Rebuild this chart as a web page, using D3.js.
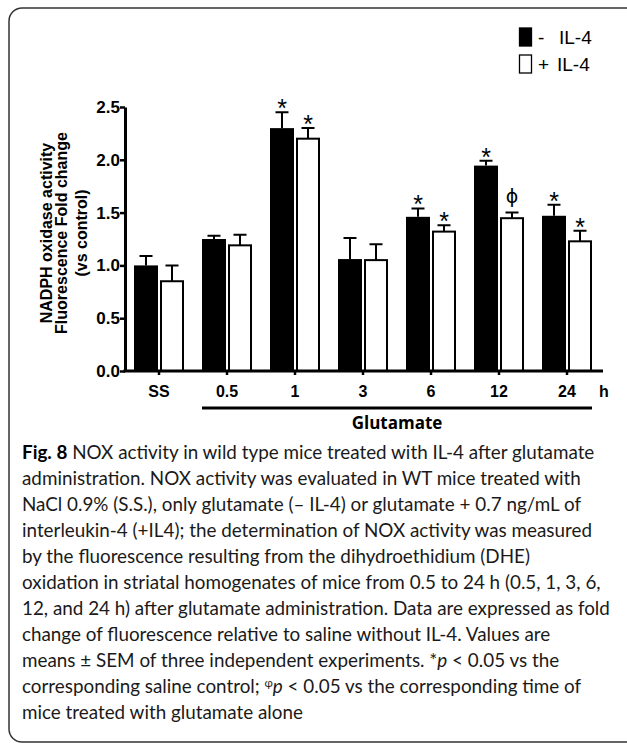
<!DOCTYPE html>
<html>
<head>
<meta charset="utf-8">
<script src="https://cdn.jsdelivr.net/npm/d3@7"></script>
<style>
  body { margin: 0; background: #fff; }
  svg { display: block; }
</style>
</head>
<body>
<svg id="chart" width="627" height="743"></svg>
<script>
// time points after glutamate (SS = saline)
const groups = ["SS", "0.5", "1", "3", "6", "12", "24"];
const series = ["- IL-4", "+ IL-4"];

// fold change
const minusIL4 = [1.00, 1.25, 2.30, 1.06, 1.46, 1.945, 1.47];
const plusIL4  = [0.85, 1.19, 2.20, 1.05, 1.32, 1.447, 1.228];
// SEM (upper whisker only)
const minusErr = [0.09, 0.03, 0.15, 0.20, 0.08, 0.045, 0.105];
const plusErr  = [0.15, 0.10, 0.10, 0.15, 0.06, 0.053, 0.10];
// significance marks
const minusMark = ["", "", "*", "", "*", "*", "*"];
const plusMark  = ["", "", "*", "", "*", "\u03D5", "*"];

const yTicks = [0, 0.5, 1.0, 1.5, 2.0, 2.5];

const caption = [
  [["Fig. 8", "b"], [" NOX activity in wild type mice treated with IL-4 after glutamate", ""]],
  [["administration. NOX activity was evaluated in WT mice treated with", ""]],
  [["NaCl 0.9% (S.S.), only glutamate (\u2013 IL-4) or glutamate + 0.7 ng/mL of", ""]],
  [["interleukin-4 (+IL4); the determination of NOX activity was measured", ""]],
  [["by the fluorescence resulting from the dihydroethidium (DHE)", ""]],
  [["oxidation in striatal homogenates of mice from 0.5 to 24 h (0.5, 1, 3, 6,", ""]],
  [["12, and 24 h) after glutamate administration. Data are expressed as fold", ""]],
  [["change of fluorescence relative to saline without IL-4. Values are", ""]],
  [["means \u00B1 SEM of three independent experiments. *", ""], ["p", "i"], [" < 0.05 vs the", ""]],
  [["corresponding saline control; ", ""], ["\u03C6", "s"], ["p", "i"], [" < 0.05 vs the corresponding time of", ""]],
  [["mice treated with glutamate alone", ""]]
];

const rows = groups.map((g, i) => ({
  group: g,
  bars: [
    { key: series[0], value: minusIL4[i], err: minusErr[i], mark: minusMark[i] },
    { key: series[1], value: plusIL4[i], err: plusErr[i], mark: plusMark[i] }
  ]
}));

const svg = d3.select("#chart");
const axisFont = "'Liberation Sans', Arial, sans-serif";
const capFont = "Lato, 'Open Sans', sans-serif";

// frame round the figure
svg.append("rect")
  .attr("x", 9).attr("y", 8)
  .attr("width", 640).attr("height", 734)
  .attr("rx", 13)
  .attr("fill", "none")
  .attr("stroke", "#333")
  .attr("stroke-width", 1.5);

const y = d3.scaleLinear().domain([0, 2.5]).range([371, 107]);
const x = d3.scaleBand().domain(groups).range([125, 601]).padding(0);
const xSub = d3.scaleBand().domain(series).range([0, x.bandwidth()])
  .paddingInner(0.077).paddingOuter(0.346);

// bars
const g = svg.selectAll("g.grp")
  .data(rows)
  .enter().append("g")
  .attr("class", "grp")
  .attr("transform", d => `translate(${x(d.group)},0)`);

g.selectAll("rect")
  .data(d => d.bars)
  .enter().append("rect")
  .attr("x", d => xSub(d.key) + (d.key === series[0] ? 0 : 1))
  .attr("y", d => y(d.value))
  .attr("width", d => xSub.bandwidth() - (d.key === series[0] ? 0 : 2))
  .attr("height", d => y(0) - y(d.value))
  .attr("fill", d => d.key === series[0] ? "#000" : "#fff")
  .attr("stroke", "#000")
  .attr("stroke-width", d => d.key === series[0] ? 0 : 2);

// error bars (up only)
const cap = 13;
g.selectAll("path.err")
  .data(d => d.bars)
  .enter().append("path")
  .attr("class", "err")
  .attr("d", d => {
    const cx = xSub(d.key) + xSub.bandwidth() / 2;
    const top = y(d.value + d.err);
    return `M${cx},${y(d.value)}V${top}M${cx - cap / 2},${top}H${cx + cap / 2}`;
  })
  .attr("fill", "none")
  .attr("stroke", "#000")
  .attr("stroke-width", 2);

// significance marks
g.selectAll("text.mark")
  .data(d => d.bars.filter(b => b.mark))
  .enter().append("text")
  .attr("class", "mark")
  .attr("x", d => xSub(d.key) + xSub.bandwidth() / 2)
  .attr("y", d => d.mark === "*" ? y(d.value + d.err) + 5 : y(d.value + d.err) - 10)
  .attr("text-anchor", "middle")
  .attr("font-family", d => d.mark === "*" ? axisFont : "'DejaVu Sans', sans-serif")
  .attr("font-size", d => d.mark === "*" ? 25 : 19)
  .text(d => d.mark);

// y axis
const yAxis = svg.append("g")
  .attr("transform", "translate(125,0)")
  .call(d3.axisLeft(y).tickValues(yTicks).tickFormat(d3.format(".1f"))
    .tickSize(5).tickSizeOuter(0).tickPadding(0));
yAxis.select(".domain").attr("stroke-width", 3);
yAxis.selectAll(".tick line").attr("stroke-width", 2.5);
yAxis.selectAll(".tick text")
  .attr("font-family", axisFont)
  .attr("font-weight", "bold")
  .attr("font-size", 17)
  .attr("fill", "#000");

// x axis
const xAxis = svg.append("g")
  .attr("transform", "translate(0,371)")
  .call(d3.axisBottom(x).tickSize(4).tickPadding(0).tickSizeOuter(0));
xAxis.select(".domain").remove();
xAxis.selectAll(".tick line").attr("stroke-width", 2.5);
xAxis.selectAll(".tick text")
  .attr("y", 26).attr("dy", null)
  .attr("font-family", axisFont)
  .attr("font-weight", "bold")
  .attr("font-size", 16)
  .attr("fill", "#000");
xAxis.append("line")
  .attr("x1", x.range()[0] - 1.5).attr("x2", x.range()[1] + 2)
  .attr("y1", 0).attr("y2", 0)
  .attr("stroke", "#000").attr("stroke-width", 3);

svg.append("text")
  .attr("x", x.range()[1] + 3).attr("y", 397)
  .attr("text-anchor", "middle")
  .attr("font-family", axisFont).attr("font-weight", "bold").attr("font-size", 16)
  .text("h");

// glutamate bracket
const gx1 = x("0.5") + xSub(series[0]);
const gx2 = x("24") + xSub(series[1]) + xSub.bandwidth();
svg.append("line")
  .attr("x1", gx1).attr("x2", gx2)
  .attr("y1", 408).attr("y2", 408)
  .attr("stroke", "#000").attr("stroke-width", 3);
svg.append("text")
  .attr("x", (gx1 + gx2) / 2).attr("y", 429)
  .attr("text-anchor", "middle")
  .attr("font-family", "'Open Sans', sans-serif").attr("font-weight", "bold").attr("font-size", 17)
  .text("Glutamate");

// y axis title
const yTitle = ["NADPH oxidase activity", "Fluorescence Fold change", "(vs control)"];
const yTitleX = [52, 67, 87];
svg.selectAll("text.ytitle")
  .data(yTitle)
  .enter().append("text")
  .attr("class", "ytitle")
  .attr("transform", (d, i) => `translate(${yTitleX[i]},233) rotate(-90)`)
  .attr("text-anchor", "middle")
  .attr("font-family", axisFont).attr("font-weight", "bold").attr("font-size", 16)
  .text(d => d);

// legend
const legend = svg.append("g");
series.forEach((s, i) => {
  legend.append("rect")
    .attr("x", 519.5).attr("y", 28 + i * 27)
    .attr("width", 12).attr("height", 18)
    .attr("fill", i === 0 ? "#000" : "#fff")
    .attr("stroke", "#000").attr("stroke-width", 1.3);
  legend.append("text")
    .attr("x", 538).attr("y", 44 + i * 27)
    .attr("font-family", axisFont).attr("font-size", 19)
    .text(i === 0 ? "-" : "+");
  legend.append("text")
    .attr("x", i === 0 ? 559 : 557).attr("y", 44 + i * 27)
    .attr("font-family", axisFont).attr("font-size", 19)
    .text("IL-4");
});

// caption
const capG = svg.append("g").attr("font-family", capFont).attr("fill", "#1a1a1a");
const lines = capG.selectAll("text")
  .data(caption)
  .enter().append("text")
  .attr("x", 22)
  .attr("y", (d, i) => 459 + i * 26)
  .attr("font-size", 17);
lines.each(function(parts) {
  const t = d3.select(this);
  parts.forEach(([str, st]) => {
    const sp = t.append("tspan").text(str);
    if (st === "b") sp.attr("font-weight", "bold").attr("fill", "#000");
    if (st === "i") sp.attr("font-style", "italic");
    if (st === "s") sp.attr("font-size", "0.6em").attr("baseline-shift", "super");
  });
});
// scale caption so the widest line spans the box width
const wMax = d3.max(lines.nodes(), n => n.getComputedTextLength());
const fs = 17 * 588 / wMax;
lines.attr("font-size", fs);
</script>
</body>
</html>
